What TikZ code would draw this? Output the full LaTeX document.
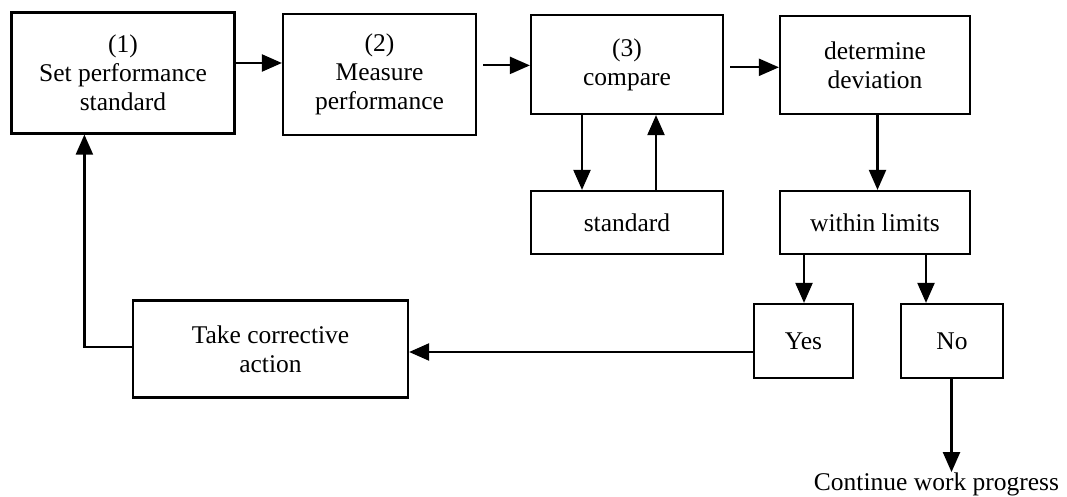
\documentclass[tikz,border=0pt]{standalone}
\usepackage{fontspec}
\setmainfont{Liberation Serif}
\usetikzlibrary{arrows.meta}
\begin{document}
\begin{tikzpicture}[x=1pt,y=-1pt,
  box/.style={draw,line width=2.2pt,rectangle,align=center,inner sep=0pt,
    font=\fontsize{25.5}{29}\selectfont},
  arr/.style={line width=2.2pt,-{Triangle[length=20pt,width=17pt]}},
  lbl/.style={inner sep=0pt,font=\fontsize{25.5}{29}\selectfont}]
\useasboundingbox (0,0) rectangle (1067,497);
\node[box,minimum width=223pt,minimum height=121pt] (b1) at (123,73) {(1)\\Set performance\\standard};
\node[box,minimum width=193pt,minimum height=121.5pt] (b2) at (379.5,74.5) {(2)\\Measure\\performance};
\node[box,minimum width=192pt,minimum height=99pt] (b3) at (627,64.5) {(3)\\compare};
\node[box,minimum width=190pt,minimum height=98pt] (b4) at (875,65) {determine\\deviation};
\node[box,minimum width=192pt,minimum height=63pt] (std) at (627,222.5) {standard};
\node[box,minimum width=190pt,minimum height=63pt] (wl) at (875,222.5) {within limits};
\node[box,minimum width=99pt,minimum height=74pt] (yes) at (803.5,341) {Yes};
\node[box,minimum width=102pt,minimum height=74pt] (no) at (952,341) {No};
\node[box,minimum width=275pt,minimum height=97pt] (take) at (270.5,349) {Take corrective\\action};
\node[lbl,anchor=base] (cont) at (936.5,490) {Continue work progress};
% connectors
\draw[arr] (b1.east |- 0,63) -- (b2.west |- 0,63);
\draw[arr,shorten <=6pt] (b2.east |- 0,65.4) -- (b3.west |- 0,65.4);
\draw[arr,shorten <=6pt] (b3.east |- 0,67.3) -- (b4.west |- 0,67.3);
\draw[arr] (b3.south -| 582,0) -- (std.north -| 582,0);
\draw[arr] (std.north -| 656,0) -- (b3.south -| 656,0);
\draw[arr] (b4.south -| 877.5,0) -- (wl.north -| 877.5,0);
\draw[arr] (wl.south -| 804,0) -- (yes.north -| 804,0);
\draw[arr] (wl.south -| 926,0) -- (no.north -| 926,0);
\draw[arr] (no.south -| 951.5,0) -- (cont.north -| 951.5,0);
\draw[arr] (yes.west |- 0,352) -- (take.east |- 0,352);
\draw[arr] (take.west |- 0,347) -| (b1.south -| 84.4,0);
\end{tikzpicture}
\end{document}
